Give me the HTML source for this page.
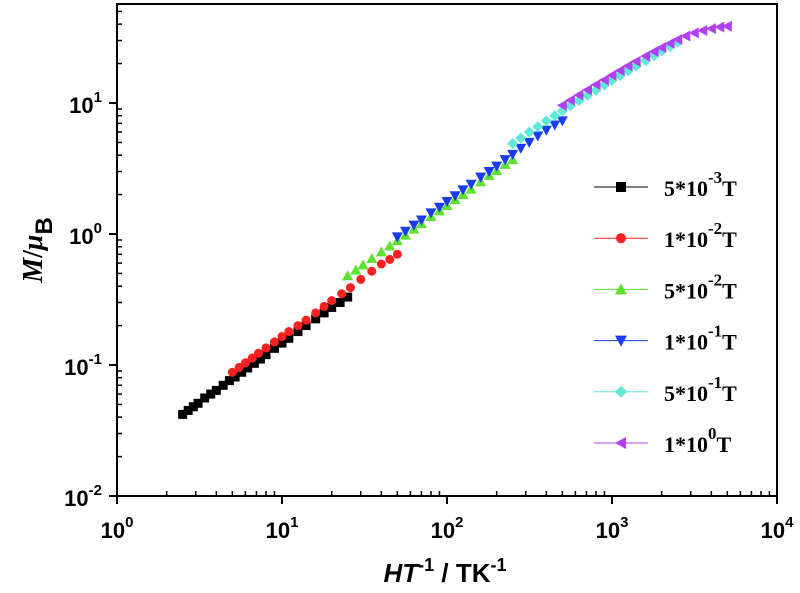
<!DOCTYPE html>
<html><head><meta charset="utf-8"><style>
body{margin:0;background:#fff;width:800px;height:593px;overflow:hidden}
svg{display:block}
.tl{font-family:"Liberation Sans",sans-serif;font-weight:bold;font-size:22px}
.lg{font-family:"Liberation Serif",serif;font-weight:bold;font-size:22px}
</style></head><body>
<svg id="c" width="800" height="593"></svg>
<script>
const xTickExps=[0,1,2,3,4];
const yTickExps=[-2,-1,0,1];
const seriesLabels=["5*10","1*10","5*10","1*10","5*10","1*10"];
const seriesExps=["-3","-2","-2","-1","-1","0"];
const seriesColors=["#000000","#ff2020","#60e030","#1a3cf0","#60e8d8","#b040f0"];
const seriesMarkers=["square","circle","up","down","diamond","left"];
const blackX=[2.5,2.7,2.9,3.1,3.4,3.7,4,4.4,4.8,5.2,5.7,6.2,6.8,7.4,8,9,10,11,12.5,14,16,18,20,22.5,25];
const blackY=[0.042,0.045,0.048,0.051,0.056,0.060,0.064,0.070,0.076,0.081,0.088,0.095,0.103,0.111,0.12,0.134,0.147,0.16,0.18,0.20,0.225,0.25,0.275,0.30,0.33];
const redX=[5,5.5,6,6.6,7.2,8,9,10,11,12.5,14,16,18,20,23,26,30,35,40,45,50];
const redY=[0.088,0.096,0.104,0.113,0.123,0.135,0.15,0.165,0.18,0.20,0.22,0.25,0.28,0.31,0.35,0.39,0.45,0.52,0.59,0.64,0.70];
const greenX=[25,28,31,35,40,45,50,56,63,70,80,90,100,112,125,140,160,180,200,225,250];
const greenY=[0.48,0.53,0.58,0.65,0.73,0.81,0.89,0.98,1.09,1.2,1.36,1.5,1.65,1.83,2.0,2.2,2.5,2.8,3.05,3.4,3.7];
const blueX=[50,56,63,70,80,90,100,112,125,140,160,180,200,225,250,280,315,355,400,450,500];
const blueY=[0.95,1.05,1.17,1.28,1.45,1.6,1.77,1.96,2.17,2.4,2.72,3.0,3.3,3.7,4.05,4.5,5.0,5.6,6.2,6.8,7.3];
const cyanX=[250,280,315,355,400,450,500,560,630,710,800,900,1000,1120,1250,1400,1600,1800,2000,2250,2500];
const cyanY=[4.9,5.4,6.0,6.6,7.3,8.0,8.7,9.5,10.4,11.4,12.5,13.7,14.9,16.2,17.6,19.1,21,23,25,27,29];
const purpleX=[500,560,630,710,800,900,1000,1120,1250,1400,1600,1800,2000,2250,2500,2800,3150,3550,4000,4500,5000];
const purpleY=[9.6,10.5,11.5,12.6,13.8,15,16.3,17.7,19.2,20.8,22.8,24.7,26.5,28.5,30.5,32.5,34.3,35.8,37,38,38.5];
const allX=[blackX,redX,greenX,blueX,cyanX,purpleX];
const allY=[blackY,redY,greenY,blueY,cyanY,purpleY];
const seriesNames=["series-5e-3T","series-1e-2T","series-5e-2T","series-1e-1T","series-5e-1T","series-1e0T"];

const NS="http://www.w3.org/2000/svg";
const svg=document.getElementById('c');
const L=117,R=777,T=4,B=496;
const xs=v=>L+(Math.log10(v)-0)*165;
const ys=v=>B-(Math.log10(v)+2)*131;
function mk(t,a,p){const e=document.createElementNS(NS,t);for(const k in a)e.setAttribute(k,a[k]);(p||svg).appendChild(e);return e;}

const frame=mk('rect',{x:L,y:T,width:R-L,height:B-T,fill:'none',stroke:'#000','stroke-width':2});



const xg=mk('g',{});


xTickExps.forEach((e,i)=>{
  const x=xs(Math.pow(10,e));
  mk('line',{x1:x,x2:x,y1:B,y2:B+8,stroke:'#000','stroke-width':2},xg);
  const t=mk('text',{x:x,y:B+42,'text-anchor':'middle',class:'tl'},xg);
  t.textContent='10';
  const s=mk('tspan',{dy:-11,'font-size':15},t);s.textContent=String(e);
  
  
  if(i<xTickExps.length-1)for(let m=2;m<10;m++){const xm=xs(m*Math.pow(10,e));mk('line',{x1:xm,x2:xm,y1:B,y2:B-5,stroke:'#000','stroke-width':1.5},xg);}
});
const yg=mk('g',{});


yTickExps.forEach(e=>{
  const y=ys(Math.pow(10,e));
  mk('line',{x1:L-8,x2:L,y1:y,y2:y,stroke:'#000','stroke-width':2},yg);
  const t=mk('text',{x:L-15,y:y+10,'text-anchor':'end',class:'tl'},yg);
  t.textContent='10';
  const s=mk('tspan',{dy:-11,'font-size':15},t);s.textContent=String(e);
  
  
  for(let m=2;m<10;m++){const ym=ys(m*Math.pow(10,e));if(ym>T)mk('line',{x1:L,x2:L+5,y1:ym,y2:ym,stroke:'#000','stroke-width':1.5},yg);}
});

const xt=mk('text',{x:445,y:582,'text-anchor':'middle','font-family':'Liberation Sans,sans-serif','font-weight':'bold','font-size':26});
xt.innerHTML='<tspan font-style="italic">HT</tspan><tspan dy="-11" font-size="18">-1</tspan><tspan dy="11"> / TK</tspan><tspan dy="-11" font-size="18">-1</tspan>';


const yt=mk('text',{x:0,y:0,transform:'translate(42,250) rotate(-90)','text-anchor':'middle','font-family':'Liberation Serif,serif','font-weight':'bold','font-size':28});
yt.innerHTML='<tspan font-style="italic">M</tspan>/<tspan font-style="italic">μ</tspan><tspan dy="10" font-family="Liberation Sans,sans-serif" font-size="24">B</tspan>';



function marker(kind,x,y,c,g,s){
  s=s||4.5;
  if(kind==='square')return mk('rect',{x:x-s,y:y-s,width:2*s,height:2*s,fill:c},g);
  if(kind==='circle')return mk('circle',{cx:x,cy:y,r:s,fill:c},g);
  let p;
  if(kind==='up')p=[[x,y-s-1],[x-s-1,y+s],[x+s+1,y+s]];
  if(kind==='down')p=[[x,y+s+1],[x-s-1,y-s],[x+s+1,y-s]];
  if(kind==='left')p=[[x-s-1,y],[x+s,y-s-1],[x+s,y+s+1]];
  if(kind==='diamond')p=[[x,y-s-1],[x+s+1,y],[x,y+s+1],[x-s-1,y]];
  return mk('polygon',{points:p.map(q=>q.join(',')).join(' '),fill:c},g);
}
allX.forEach((X,i)=>{
  const g=mk('g',{});
  
  
  X.forEach((v,j)=>{
    const m=marker(seriesMarkers[i],xs(v),ys(allY[i][j]),seriesColors[i],g);
    
    
  });
});
seriesLabels.forEach((lab,i)=>{
  const y=187+i*51.2;
  const g=mk('g',{});
  
  
  mk('line',{x1:594,x2:648,y1:y,y2:y,stroke:seriesColors[i],'stroke-width':1},g);
  marker(seriesMarkers[i],621,y,seriesColors[i],g,5);
  const t=mk('text',{x:664,y:y+9,class:'lg'},g);
  t.textContent=lab;
  const s=mk('tspan',{dy:-13,'font-size':17},t);s.textContent=seriesExps[i];
  const s2=mk('tspan',{dy:13},t);s2.textContent='T';
});
</script>
</body></html>
